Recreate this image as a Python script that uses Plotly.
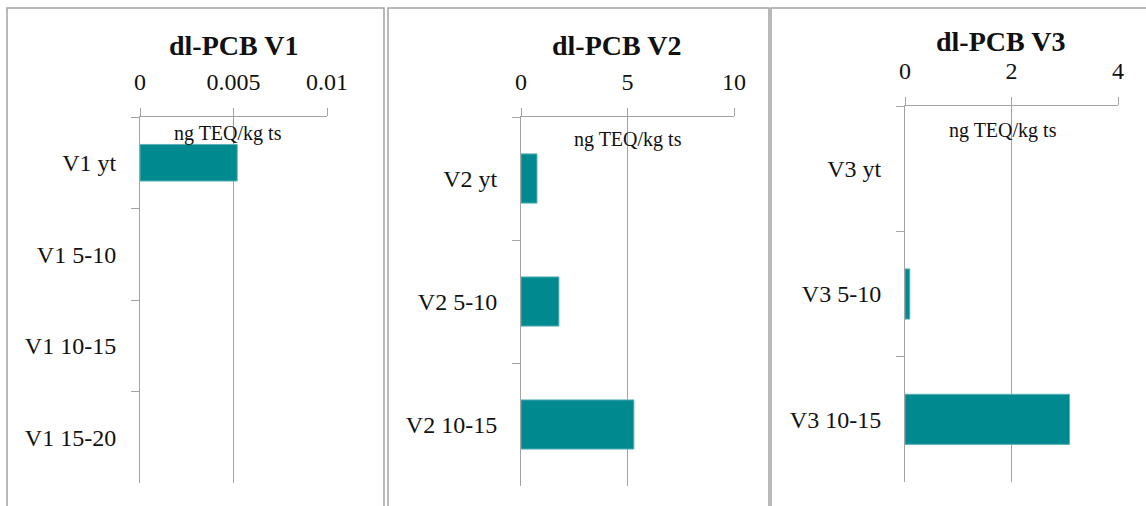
import plotly.graph_objects as go

W, H = 1146, 506

# ---- data ----
titles = ["dl-PCB V1", "dl-PCB V2", "dl-PCB V3"]
cats1 = ["V1 yt", "V1 5-10", "V1 10-15", "V1 15-20"]
vals1 = [0.0052, None, None, None]
cats2 = ["V2 yt", "V2 5-10", "V2 10-15"]
vals2 = [0.75, 1.78, 5.3]
cats3 = ["V3 yt", "V3 5-10", "V3 10-15"]
vals3 = [None, 0.09, 3.09]
ticks1 = [0, 0.005, 0.01]
ticktext1 = ["0", "0.005", "0.01"]
ticks2 = [0, 5, 10]
ticktext2 = ["0", "5", "10"]
ticks3 = [0, 2, 4]
ticktext3 = ["0", "2", "4"]
unit = "ng TEQ/kg ts"

panels = [
    dict(cats=cats1, vals=vals1, ticks=ticks1, tt=ticktext1, title=titles[0],
         box=(140, 327, 117, 483), title_xy=(233, 45), unit_xy=(228, 133), border=(7, 384)),
    dict(cats=cats2, vals=vals2, ticks=ticks2, tt=ticktext2, title=titles[1],
         box=(521, 734, 117, 486), title_xy=(616, 45), unit_xy=(628, 140), border=(388, 769)),
    dict(cats=cats3, vals=vals3, ticks=ticks3, tt=ticktext3, title=titles[2],
         box=(905, 1118, 106, 482), title_xy=(1000, 42), unit_xy=(1003, 130), border=(771, 1170)),
]

FONT = "Palatino Linotype, Book Antiqua, Palatino, Liberation Serif, serif"
GRID = "#a3a3a3"
BAR = "#00898f"
TXT = "#111111"

fig = go.Figure()
annotations = []
shapes = []

for i, p in enumerate(panels, start=1):
    xs = "" if i == 1 else str(i)
    x0, x1, y0, y1 = p["box"]
    fig.add_trace(go.Bar(
        x=p["vals"], y=p["cats"], orientation="h",
        marker=dict(color=BAR, line=dict(color="#5fb3b8", width=1)),
        xaxis="x" + xs, yaxis="y" + xs, showlegend=False,
        hoverinfo="x+y",
    ))
    fig.layout["xaxis" + xs] = dict(
        domain=[x0 / W, x1 / W], anchor="y" + xs, side="top",
        range=[0, p["ticks"][-1]], tickvals=p["ticks"], ticktext=p["tt"],
        showgrid=True, gridcolor=GRID, gridwidth=1,
        showline=True, linecolor=GRID, linewidth=1,
        ticks="outside", ticklen=8, tickcolor=GRID, tickwidth=1,
        zeroline=False, ticklabelstandoff=8, automargin=False,
        tickfont=dict(family=FONT, size=24, color=TXT), fixedrange=True,
    )
    fig.layout["yaxis" + xs] = dict(
        domain=[1 - y1 / H, 1 - y0 / H], anchor="x" + xs, type="category",
        autorange="reversed", tickson="boundaries",
        showgrid=False, showline=True, linecolor=GRID, linewidth=1,
        ticks="outside", ticklen=8, tickcolor=GRID, tickwidth=1,
        ticklabelstandoff=18, automargin=False,
        tickfont=dict(family=FONT, size=24, color=TXT), fixedrange=True,
    )
    annotations.append(dict(
        text="<b>" + p["title"] + "</b>", xref="paper", yref="paper",
        x=p["title_xy"][0] / W, y=1 - p["title_xy"][1] / H,
        xanchor="center", yanchor="middle", showarrow=False,
        font=dict(family=FONT, size=28, color=TXT),
    ))
    annotations.append(dict(
        text=unit, xref="paper", yref="paper",
        x=p["unit_xy"][0] / W, y=1 - p["unit_xy"][1] / H,
        xanchor="center", yanchor="middle", showarrow=False,
        font=dict(family=FONT, size=20, color=TXT),
    ))
    bx0, bx1 = p["border"]
    shapes.append(dict(
        type="rect", xref="paper", yref="paper",
        x0=bx0 / W, x1=bx1 / W, y0=-0.1, y1=1 - 8 / H,
        line=dict(color="#a3a3a3", width=1.5), layer="below",
    ))

fig.update_layout(
    width=W, height=H, autosize=False, margin=dict(l=0, r=0, t=0, b=0, pad=0),
    paper_bgcolor="white", plot_bgcolor="white",
    bargap=0.6, annotations=annotations, shapes=shapes,
    font=dict(family=FONT, color=TXT),
)

post = (
    "document.documentElement.style.margin='0';"
    "document.body.style.margin='0';"
    "document.documentElement.style.overflow='hidden';"
    "document.body.style.overflow='hidden';"
    "var gd=document.getElementById('{plot_id}');"
    "Plotly.relayout(gd,{width:%d,height:%d});" % (W, H)
)

fig.write_html("out.html", config={"responsive": False, "displayModeBar": False},
               post_script=post)
